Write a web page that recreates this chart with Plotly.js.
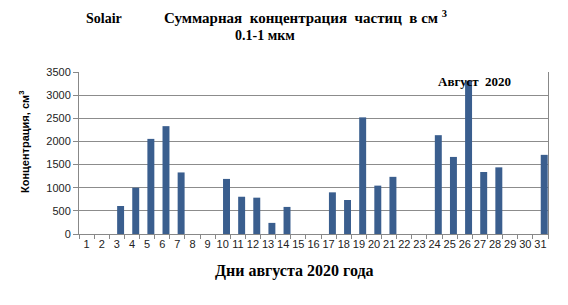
<!DOCTYPE html>
<html>
<head>
<meta charset="utf-8">
<script src="https://cdn.plot.ly/plotly-3.0.1.min.js"></script>
<style>html,body{margin:0;padding:0;background:#fff;}#chart{width:568px;height:305px;}</style>
</head>
<body>
<div id="chart"></div>
<script>
const days = ["1","2","3","4","5","6","7","8","9","10","11","12","13","14","15","16","17","18","19","20","21","22","23","24","25","26","27","28","29","30","31"];
const concentration = [null,null,605,1000,2055,2330,1330,null,null,1190,805,785,240,585,null,null,900,735,2520,1045,1235,null,null,2135,1665,3310,1340,1440,null,null,1710];
const yTicks = [0,500,1000,1500,2000,2500,3000,3500];

const serif = "Liberation Serif, Times New Roman, serif";
const sans = "Liberation Sans, Arial, sans-serif";

const trace = {
  type: "bar",
  x: days,
  y: concentration,
  marker: {color: "#3A5E8E", line: {width: 0}},
  offset: 0.02,
  width: 0.46,
  hoverinfo: "x+y"
};

const px = v => (v - 79) / 469;
const py = v => (234 - v) / 162;

const layout = {
  width: 568, height: 305,
  margin: {l: 79, r: 20, t: 72, b: 71},
  paper_bgcolor: "#fff", plot_bgcolor: "#fff",
  showlegend: false,
  xaxis: {
    type: "category",
    tickson: "boundaries",
    tickangle: 0,
    ticks: "outside", ticklen: 4, tickcolor: "#888", tickwidth: 1,
    showline: true, linecolor: "#888", linewidth: 1,
    showgrid: false,
    tickfont: {family: sans, size: 11, color: "#222"},
    fixedrange: true
  },
  yaxis: {
    range: [0, 3500],
    tickvals: yTicks,
    ticks: "outside", ticklen: 5, tickcolor: "#888", tickwidth: 1,
    showline: true, linecolor: "#888", linewidth: 1, mirror: true,
    showgrid: true, gridcolor: "#8c8c8c", gridwidth: 1,
    zeroline: false,
    tickfont: {family: sans, size: 11, color: "#222"},
    fixedrange: true
  },
  annotations: [
    {text: "<b>Solair</b>", xref: "paper", yref: "paper", x: px(104), y: py(18), xanchor: "center", yanchor: "middle", showarrow: false, font: {family: serif, size: 14, color: "#000"}},
    {text: "<b>Суммарная  концентрация  частиц  в см <sup>3</sup></b>", xref: "paper", yref: "paper", x: px(305), y: py(17), xanchor: "center", yanchor: "middle", showarrow: false, font: {family: serif, size: 15, color: "#000"}},
    {text: "<b>0.1-1 мкм</b>", xref: "paper", yref: "paper", x: px(265), y: py(36), xanchor: "center", yanchor: "middle", showarrow: false, font: {family: serif, size: 14, color: "#000"}},
    {text: "<b>Август  2020</b>", xref: "paper", yref: "paper", x: px(474), y: py(81), xanchor: "center", yanchor: "middle", showarrow: false, font: {family: serif, size: 13, color: "#000"}},
    {text: "<b>Дни августа 2020 года</b>", xref: "paper", yref: "paper", x: px(294), y: py(271), xanchor: "center", yanchor: "middle", showarrow: false, font: {family: serif, size: 16, color: "#000"}},
    {text: "<b>Концентрация, см<sup>3</sup></b>", xref: "paper", yref: "paper", x: px(24), y: py(142), xanchor: "center", yanchor: "middle", textangle: -90, showarrow: false, font: {family: sans, size: 11, color: "#000"}}
  ]
};

Plotly.newPlot("chart", [trace], layout, {displayModeBar: false, staticPlot: true});
</script>
</body>
</html>
